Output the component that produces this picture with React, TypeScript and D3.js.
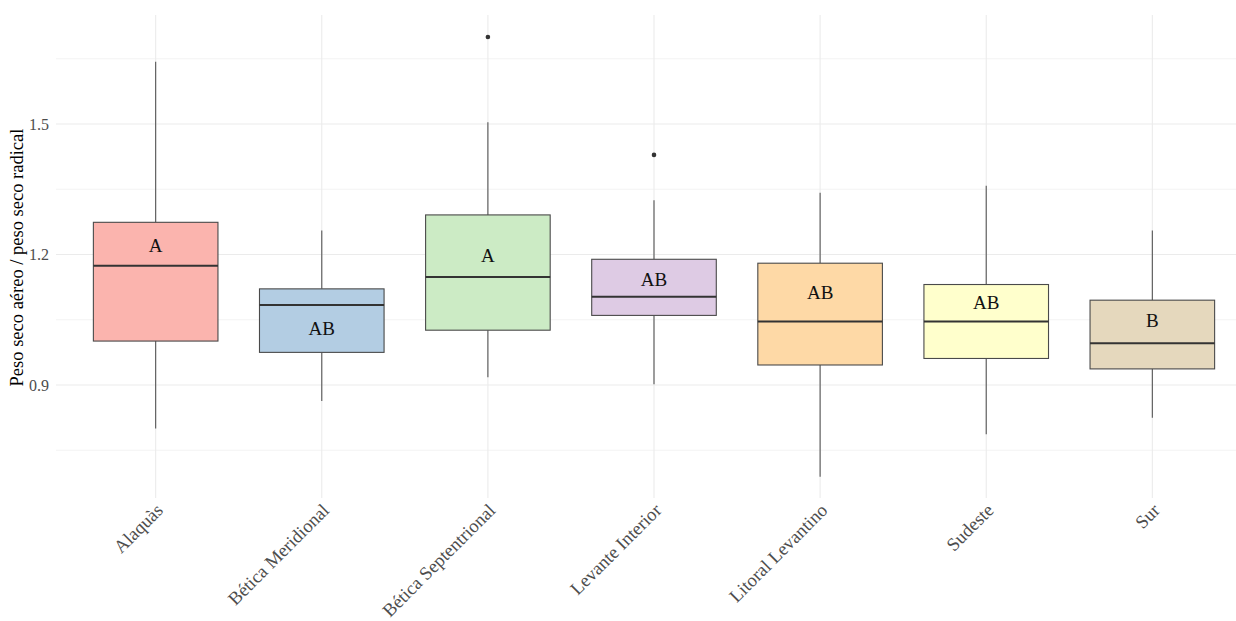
import React from "react";
import * as d3 from "d3";

const categories = ["Alaquàs", "Bética Meridional", "Bética Septentrional", "Levante Interior", "Litoral Levantino", "Sudeste", "Sur"];
const whiskerLow = [0.800, 0.863, 0.918, 0.902, 0.689, 0.787, 0.825];
const q1 = [1.001, 0.975, 1.026, 1.060, 0.946, 0.961, 0.937];
const median = [1.174, 1.084, 1.148, 1.103, 1.046, 1.046, 0.996];
const q3 = [1.274, 1.121, 1.291, 1.189, 1.180, 1.131, 1.095];
const whiskerHigh = [1.643, 1.255, 1.504, 1.325, 1.342, 1.358, 1.255];
const outliers: [string, number][] = [["Bética Septentrional", 1.700], ["Levante Interior", 1.429]];
const groupLetters = ["A", "AB", "A", "AB", "AB", "AB", "B"];
const letterY = [1.222, 1.031, 1.199, 1.144, 1.114, 1.090, 1.048];
const colors = ["#FBB4AE", "#B3CDE3", "#CCEBC5", "#DECBE4", "#FED9A6", "#FFFFCC", "#E5D8BD"];
const yTicks = [0.9, 1.2, 1.5];
const yMinor = [0.75, 1.05, 1.35, 1.65];

const W = 1236, H = 621;
const left = 56, top = 15, bottom = 498;
const right = 1252;

export default function App() {
  const x = d3.scalePoint<string>().domain(categories).range([left, right]).padding(0.6);
  const step = x.step();
  const y = d3.scaleLinear().domain([0.9, 1.5]).range([385, 124]);
  const bw = step * 0.75;
  const font = "'Liberation Serif', 'Times New Roman', serif";
  return (
    <svg width={W} height={H} style={{ position: "absolute", left: 0, top: 0, background: "#fff" }} fontFamily={font}>
      {yMinor.map((v) => (
        <line key={"mn" + v} x1={left} x2={W} y1={y(v)} y2={y(v)} stroke="#ebebeb" strokeWidth={0.6} />
      ))}
      {yTicks.map((v) => (
        <line key={"mj" + v} x1={left} x2={W} y1={y(v)} y2={y(v)} stroke="#ebebeb" strokeWidth={1.1} />
      ))}
      {categories.map((c) => (
        <line key={"vg" + c} x1={x(c)} x2={x(c)} y1={top} y2={bottom} stroke="#ebebeb" strokeWidth={1.1} />
      ))}
      {yTicks.map((v) => (
        <text key={"yt" + v} x={49} y={y(v)} dy="0.35em" textAnchor="end" fontSize={16} fill="#4d4d4d">
          {v.toFixed(1)}
        </text>
      ))}
      <text transform={`translate(23,${(top + bottom) / 2 + 1}) rotate(-90)`} textAnchor="middle" fontSize={18.5} fill="#000">
        Peso seco aéreo / peso seco radical
      </text>
      {categories.map((c, i) => {
        const xc = x(c) as number;
        return (
          <g key={c}>
            <line x1={xc} x2={xc} y1={y(whiskerHigh[i])} y2={y(q3[i])} stroke="#555" strokeWidth={1.1} />
            <line x1={xc} x2={xc} y1={y(q1[i])} y2={y(whiskerLow[i])} stroke="#555" strokeWidth={1.1} />
            <rect x={xc - bw / 2} y={y(q3[i])} width={bw} height={y(q1[i]) - y(q3[i])} fill={colors[i]} stroke="#4a4a4a" strokeWidth={1.1} />
            <line x1={xc - bw / 2} x2={xc + bw / 2} y1={y(median[i])} y2={y(median[i])} stroke="#333" strokeWidth={2} />
            <text x={xc} y={y(letterY[i])} dy="0.35em" textAnchor="middle" fontSize={19} fill="#111">
              {groupLetters[i]}
            </text>
            <text transform={`translate(${xc},${503}) rotate(-45)`} dy={12} textAnchor="end" fontSize={18.5} fill="#4d4d4d">
              {c}
            </text>
          </g>
        );
      })}
      {outliers.map(([c, v], k) => (
        <circle key={"o" + k} cx={x(c) as number} cy={y(v)} r={2.3} fill="#333" />
      ))}
    </svg>
  );
}
